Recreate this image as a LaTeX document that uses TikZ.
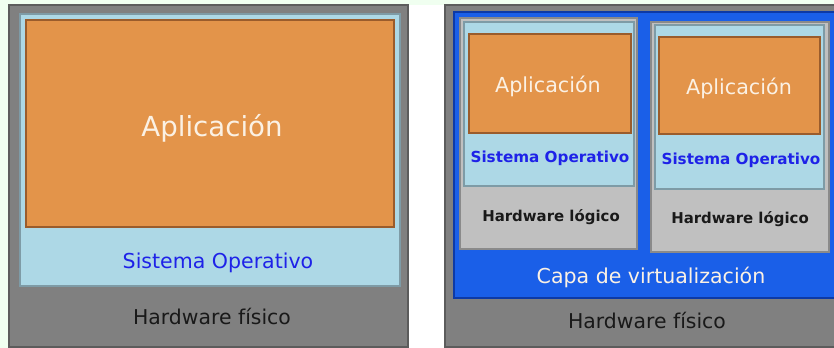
\documentclass[tikz,border=0pt]{standalone}
\usepackage{fontspec}
\setmainfont{DejaVu Sans}
\usepackage{xcolor}

\definecolor{bgcol}{HTML}{F0FFF0}
\definecolor{hwcol}{HTML}{808080}
\definecolor{hwline}{HTML}{5C5C5C}
\definecolor{socol}{HTML}{ADD8E6}
\definecolor{soline}{HTML}{7E9BA6}
\definecolor{appcol}{HTML}{E3944A}
\definecolor{appline}{HTML}{9A5C2C}
\definecolor{virtcol}{HTML}{1A5FE8}
\definecolor{virtline}{HTML}{0D3AA6}
\definecolor{vmcol}{HTML}{C0C0C0}
\definecolor{vmline}{HTML}{8A8A8A}
\definecolor{sotext}{HTML}{1E22E8}
\definecolor{apptext}{HTML}{FBF1E4}

\begin{document}
\begin{tikzpicture}[x=0.75pt,y=0.75pt,yscale=-1,xscale=1,
  hwbox/.style={fill=hwcol,draw=hwline,line width=1.2pt},
  sobox/.style={fill=socol,draw=soline,line width=1pt},
  appbox/.style={fill=appcol,draw=appline,line width=1pt},
  virtbox/.style={fill=virtcol,draw=virtline,line width=1.2pt},
  vmbox/.style={fill=vmcol,draw=vmline,line width=1pt},
  lbl/.style={inner sep=0.75pt,anchor=center}]
\clip (0,0) rectangle (834,348);
\fill[bgcol] (0,0) rectangle (834,348);
\fill[white] (408,5) rectangle (445,348);

%Rectangle hardware fisico (left)
    \draw[hwbox] (9,5) rectangle (408,347);
%Rectangle sistema operativo (left)
    \draw[sobox] (20,14) rectangle (400,286);
%Rectangle aplicacion (left)
    \draw[appbox] (26,20) rectangle (394,227);

%Rectangle hardware fisico (right)
    \draw[hwbox] (445,5) rectangle (840,347);
%Rectangle capa de virtualizacion
    \draw[virtbox] (454,12) rectangle (840,298);
%Rectangle maquina virtual 1
    \draw[vmbox] (460,18) rectangle (637,249);
    \draw[sobox] (464,22) rectangle (634,186);
    \draw[appbox] (469,34) rectangle (631,133);
%Rectangle maquina virtual 2
    \draw[vmbox] (651,22) rectangle (829,252);
    \draw[sobox] (655,25) rectangle (824,189);
    \draw[appbox] (659,37) rectangle (820,134);

% Text Node
    \node[lbl,text=apptext,font=\fontsize{20.7}{24}\selectfont] (appL) at (212,128) {Aplicación};
% Text Node
    \node[lbl,text=sotext,font=\fontsize{15.4}{18}\selectfont] (soL) at (218,263) {Sistema Operativo};
% Text Node
    \node[lbl,text=black!90,font=\fontsize{15.3}{18}\selectfont] (hwL) at (212,316) {Hardware físico};

% Text Node
    \node[lbl,text=apptext,font=\fontsize{15.5}{18}\selectfont] (appA) at (548,86) {Aplicación};
% Text Node
    \node[lbl,text=sotext,font=\bfseries\fontsize{11.4}{14}\selectfont] (soA) at (550,158) {Sistema Operativo};
% Text Node
    \node[lbl,text=black!90,font=\bfseries\fontsize{11.2}{14}\selectfont] (hwA) at (551,217) {Hardware lógico};

% Text Node
    \node[lbl,text=apptext,font=\fontsize{15.5}{18}\selectfont] (appB) at (739,88) {Aplicación};
% Text Node
    \node[lbl,text=sotext,font=\bfseries\fontsize{11.4}{14}\selectfont] (soB) at (741,160) {Sistema Operativo};
% Text Node
    \node[lbl,text=black!90,font=\bfseries\fontsize{11.2}{14}\selectfont] (hwB) at (740,219) {Hardware lógico};

% Text Node
    \node[lbl,text=apptext,font=\fontsize{15.4}{18}\selectfont] (virt) at (651,277) {Capa de virtualización};
% Text Node
    \node[lbl,text=black!90,font=\fontsize{15.3}{18}\selectfont] (hwR) at (647,320) {Hardware físico};

\end{tikzpicture}
\end{document}
